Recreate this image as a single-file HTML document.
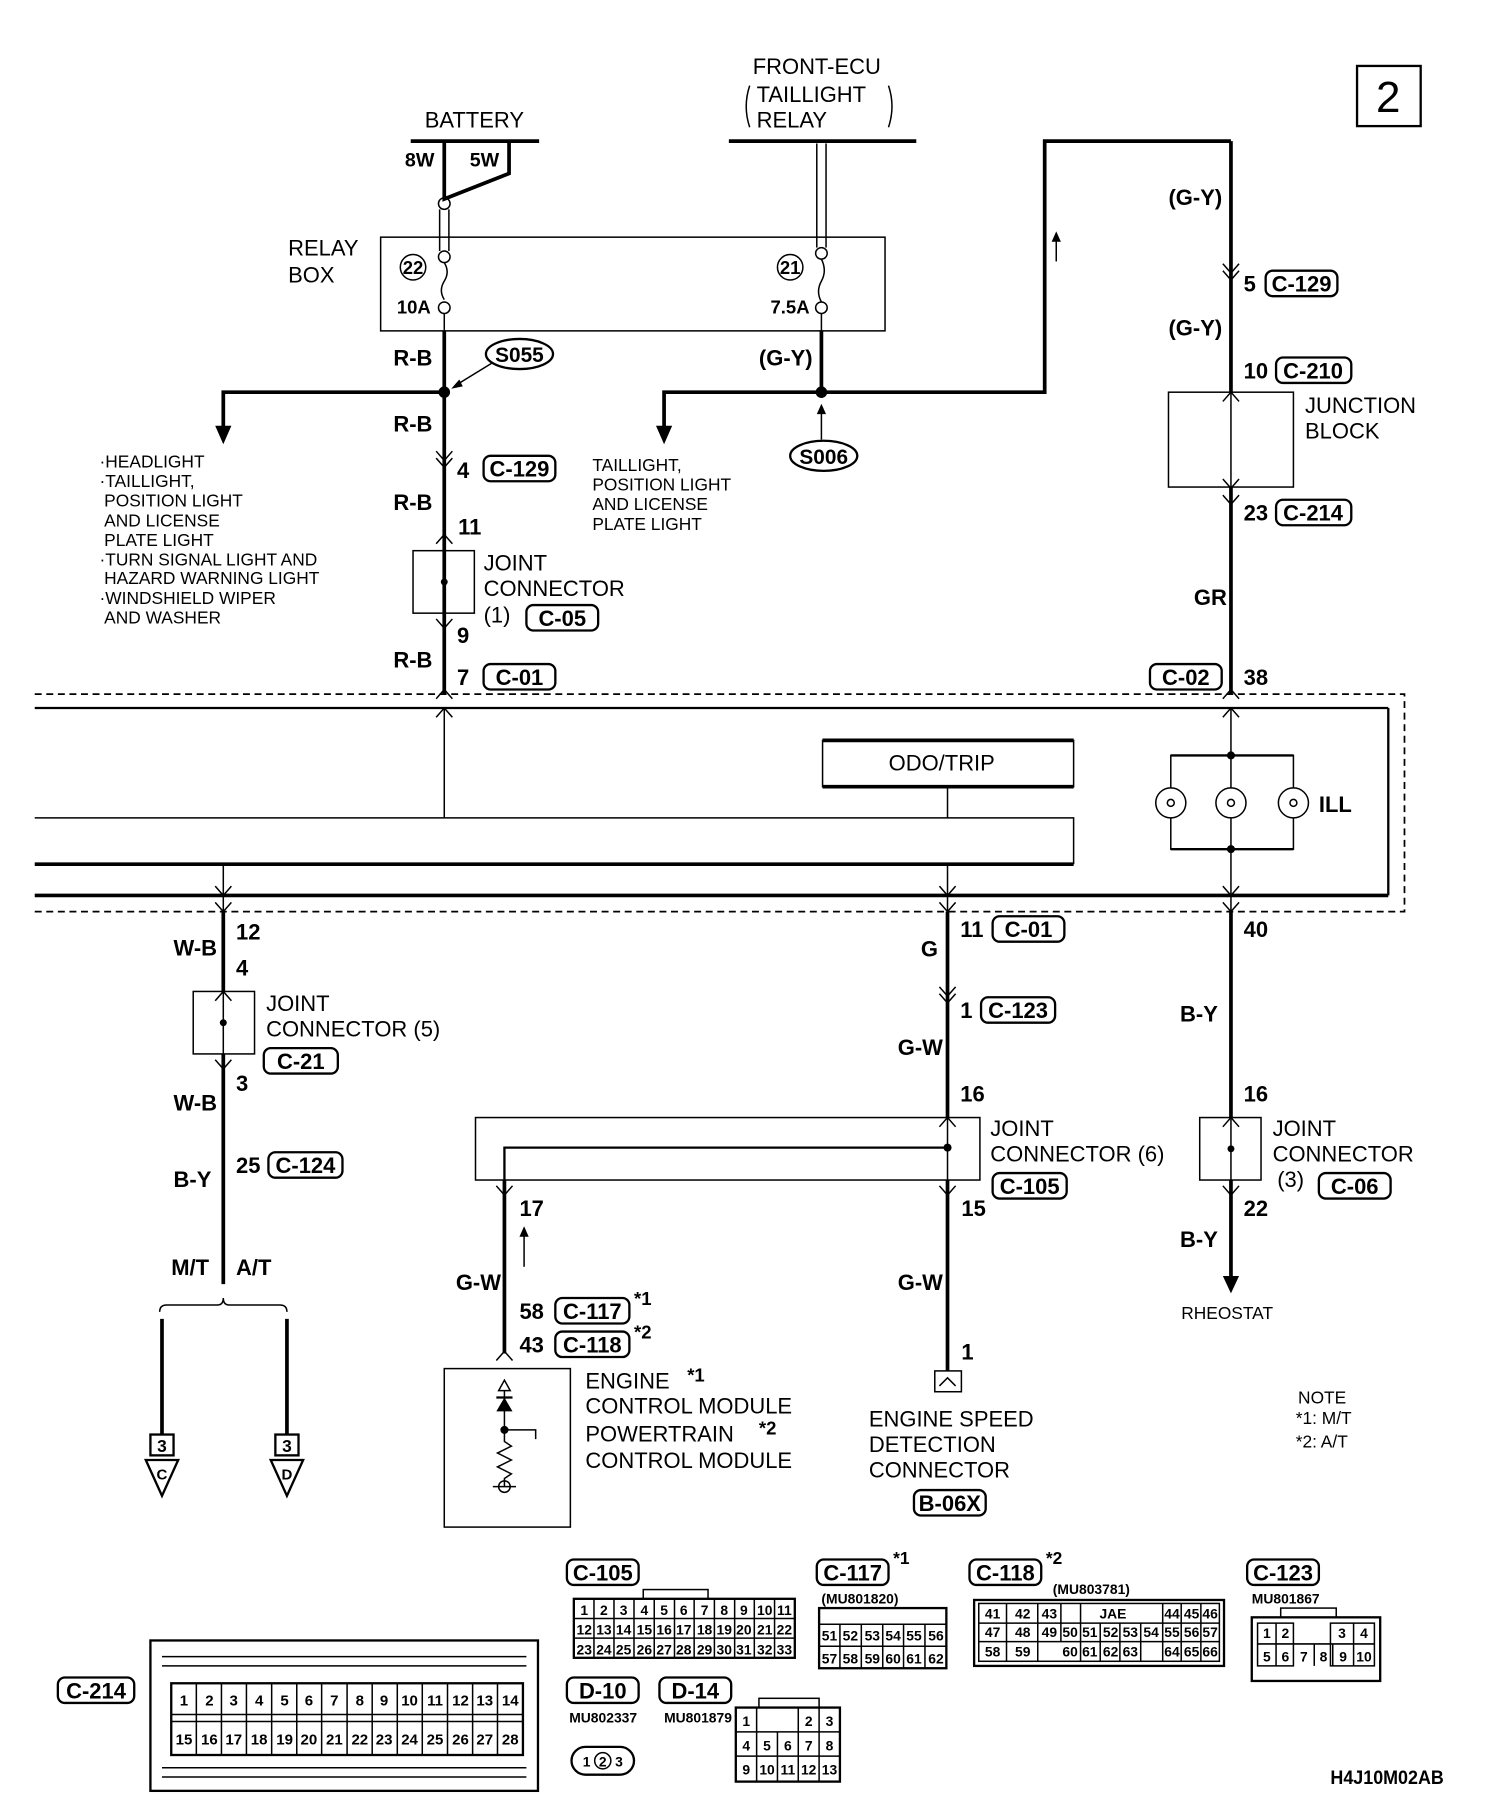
<!DOCTYPE html>
<html><head><meta charset="utf-8"><style>
html,body{margin:0;padding:0;background:#fff}
svg{display:block}
.n{font-family:"Liberation Sans",sans-serif;font-size:19px;fill:#000}
.s{font-family:"Liberation Sans",sans-serif;font-size:15px;fill:#000}
.b{font-family:"Liberation Sans",sans-serif;font-size:19px;font-weight:bold;fill:#000}
.g{font-family:"Liberation Sans",sans-serif;font-size:12px;font-weight:bold;fill:#000}
.t{stroke:#000;stroke-width:1.3;fill:none}
.k{stroke:#000;stroke-width:3.2;fill:none}
.m{stroke:#000;stroke-width:2;fill:none}
</style></head><body>
<svg width="1504" height="1814" viewBox="0 0 1300 1568" xmlns="http://www.w3.org/2000/svg">
<rect x="0" y="0" width="1300" height="1568" fill="#fff"/>
<!-- page number -->
<rect x="1173" y="57" width="55" height="52" class="m"/>
<text x="1200" y="97" class="n" style="font-size:38px" text-anchor="middle">2</text>

<!-- battery -->
<text x="410" y="110" class="n" text-anchor="middle">BATTERY</text>
<line x1="355" y1="122" x2="466" y2="122" class="k"/>
<text x="350" y="144" class="b" style="font-size:17px">8W</text>
<text x="406" y="144" class="b" style="font-size:17px">5W</text>
<polyline points="384,122 384,172 440,150 440,122" class="k"/>
<circle cx="384" cy="176" r="5" class="t" fill="#fff"/>
<line x1="380" y1="181" x2="380" y2="217" class="t"/><line x1="388" y1="181" x2="388" y2="217" class="t"/>
<circle cx="384" cy="222" r="5" class="t"/>
<path d="M384,227 q5,8 0,16 q-5,8 0,16" class="t"/>
<circle cx="384" cy="266" r="5" class="t"/>

<!-- front ecu -->
<text x="706" y="64" class="n" text-anchor="middle">FRONT-ECU</text>
<text x="654" y="88" class="n">TAILLIGHT</text>
<text x="654" y="110" class="n">RELAY</text>
<path d="M648,74 q-6,18 0,36" class="t"/><path d="M768,74 q6,18 0,36" class="t"/>
<line x1="630" y1="122" x2="792" y2="122" class="k"/>
<line x1="706" y1="124" x2="706" y2="214" class="t"/><line x1="714" y1="124" x2="714" y2="214" class="t"/>
<circle cx="710" cy="219" r="5" class="t"/>
<path d="M710,224 q5,10 0,19 q-5,9 0,18" class="t"/>
<circle cx="710" cy="266" r="5" class="t"/>

<!-- relay box -->
<rect x="329" y="205" width="436" height="81" class="t"/>
<text x="249" y="221" class="n">RELAY</text>
<text x="249" y="244" class="n">BOX</text>
<circle cx="357" cy="231" r="11" class="t"/><text x="357" y="237" class="b" style="font-size:16px" text-anchor="middle">22</text>
<circle cx="683" cy="231" r="11" class="t"/><text x="683" y="237" class="b" style="font-size:16px" text-anchor="middle">21</text>
<text x="343" y="271" class="b" style="font-size:16px">10A</text>
<text x="666" y="271" class="b" style="font-size:16px">7.5A</text>

<!-- R-B wire -->
<line x1="384" y1="271" x2="384" y2="286" class="t"/>
<line x1="384" y1="286" x2="384" y2="600" class="k"/>
<circle cx="384" cy="339" r="5"/>
<polyline points="384,339 193,339 193,372" class="k"/>
<polygon points="186,368 200,368 193,384"/>
<text x="340" y="316" class="b">R-B</text>
<text x="340" y="373" class="b">R-B</text>
<text x="340" y="441" class="b">R-B</text>
<text x="340" y="577" class="b">R-B</text>
<ellipse cx="449" cy="306" rx="29" ry="13" class="m"/><text x="449" y="313" class="b" style="font-size:18px" text-anchor="middle">S055</text>
<line x1="425" y1="314" x2="394" y2="333" class="t"/><polygon points="390,336 397,328 400,334"/>
<path d="M377,390 l7,8 l7,-8 M377,396 l7,8 l7,-8" class="t"/>
<text x="395" y="413" class="b">4</text>
<rect x="418" y="394" width="62" height="22" rx="6" class="m"/><text x="449" y="412" class="b" text-anchor="middle">C-129</text>
<text x="396" y="462" class="b">11</text>
<path d="M377,470 l7,-8 l7,8" class="t"/>
<rect x="357" y="476" width="53" height="54" class="t"/>
<circle cx="384" cy="503" r="3"/>
<line x1="384" y1="476" x2="384" y2="530" class="t"/>
<path d="M377,535 l7,8 l7,-8" class="t"/>
<text x="418" y="493" class="n">JOINT</text>
<text x="418" y="515" class="n">CONNECTOR</text>
<text x="418" y="538" class="n">(1)</text>
<rect x="455" y="523" width="62" height="22" rx="6" class="m"/><text x="486" y="541" class="b" text-anchor="middle">C-05</text>
<text x="395" y="556" class="b">9</text>
<text x="395" y="592" class="b">7</text>
<rect x="418" y="574" width="62" height="22" rx="6" class="m"/><text x="449" y="592" class="b" text-anchor="middle">C-01</text>
<path d="M377,604 l7,-8 l7,8" class="t"/>

<!-- left list -->
<g class="s">
<text x="86" y="404">·HEADLIGHT</text>
<text x="86" y="421">·TAILLIGHT,</text>
<text x="90" y="438">POSITION LIGHT</text>
<text x="90" y="455">AND LICENSE</text>
<text x="90" y="472">PLATE LIGHT</text>
<text x="86" y="489">·TURN SIGNAL LIGHT AND</text>
<text x="90" y="505">HAZARD WARNING LIGHT</text>
<text x="86" y="522">·WINDSHIELD WIPER</text>
<text x="90" y="539">AND WASHER</text>
</g>

<!-- G-Y wire -->
<line x1="710" y1="271" x2="710" y2="286" class="t"/>
<line x1="710" y1="286" x2="710" y2="339" class="k"/>
<circle cx="710" cy="339" r="5"/>
<polyline points="710,339 574,339 574,372" class="k"/>
<polygon points="567,368 581,368 574,384"/>
<polyline points="710,339 903,339 903,122 1064,122" class="k"/>
<text x="656" y="316" class="b">(G-Y)</text>
<line x1="710" y1="352" x2="710" y2="380" class="t"/><polygon points="706,358 714,358 710,349"/>
<ellipse cx="712" cy="394" rx="29" ry="13" class="m"/><text x="712" y="401" class="b" style="font-size:18px" text-anchor="middle">S006</text>
<line x1="913" y1="226" x2="913" y2="203" class="t"/><polygon points="909,209 917,209 913,200"/>
<g class="s">
<text x="512" y="407">TAILLIGHT,</text>
<text x="512" y="424">POSITION LIGHT</text>
<text x="512" y="441">AND LICENSE</text>
<text x="512" y="458">PLATE LIGHT</text>
</g>

<!-- right wire -->
<line x1="1064" y1="122" x2="1064" y2="600" class="k"/>
<text x="1010" y="177" class="b">(G-Y)</text>
<path d="M1057,228 l7,8 l7,-8 M1057,234 l7,8 l7,-8" class="t"/>
<text x="1075" y="252" class="b">5</text>
<rect x="1094" y="234" width="62" height="22" rx="6" class="m"/><text x="1125" y="252" class="b" text-anchor="middle">C-129</text>
<text x="1010" y="290" class="b">(G-Y)</text>
<text x="1075" y="327" class="b">10</text>
<rect x="1103" y="309" width="65" height="22" rx="6" class="m"/><text x="1135" y="327" class="b" text-anchor="middle">C-210</text>
<rect x="1010" y="339" width="108" height="82" fill="#fff" stroke="#000" stroke-width="1.3"/>
<line x1="1064" y1="339" x2="1064" y2="421" class="t"/>
<path d="M1057,347 l7,-8 l7,8 M1057,414 l7,8 l7,-8" class="t"/>
<text x="1128" y="357" class="n">JUNCTION</text>
<text x="1128" y="379" class="n">BLOCK</text>
<path d="M1057,428 l7,8 l7,-8" class="t"/>
<text x="1075" y="450" class="b">23</text>
<rect x="1103" y="432" width="65" height="22" rx="6" class="m"/><text x="1135" y="450" class="b" text-anchor="middle">C-214</text>
<text x="1032" y="523" class="b">GR</text>
<rect x="994" y="574" width="62" height="22" rx="6" class="m"/><text x="1025" y="592" class="b" text-anchor="middle">C-02</text>
<text x="1075" y="592" class="b">38</text>
<path d="M1057,604 l7,-8 l7,8" class="t"/>

<!-- meter frame -->
<path d="M30,600 H1214 V788 H30" fill="none" stroke="#000" stroke-width="1.5" stroke-dasharray="6,4"/>
<line x1="30" y1="612" x2="1200" y2="612" class="m"/>
<line x1="1200" y1="612" x2="1200" y2="774" class="m"/>
<line x1="30" y1="774" x2="1200" y2="774" class="k"/>
<path d="M377,620 l7,-8 l7,8" class="t"/>
<line x1="384" y1="612" x2="384" y2="707" class="t"/>
<rect x="711" y="640" width="217" height="40" fill="#fff" stroke="#000" stroke-width="1.3"/>
<line x1="711" y1="640" x2="928" y2="640" class="k"/><line x1="711" y1="680" x2="928" y2="680" class="k"/>
<text x="814" y="666" class="n" text-anchor="middle">ODO/TRIP</text>
<line x1="819" y1="680" x2="819" y2="707" class="t"/>
<polyline points="30,707 928,707 928,747" class="t"/>
<line x1="30" y1="747" x2="928" y2="747" class="k"/>
<line x1="193" y1="747" x2="193" y2="790" class="t"/>
<line x1="819" y1="747" x2="819" y2="790" class="t"/>
<path d="M186,766 l7,8 l7,-8 M186,780 l7,8 l7,-8 M812,766 l7,8 l7,-8 M812,780 l7,8 l7,-8" class="t"/>
<!-- ILL -->
<line x1="1064" y1="612" x2="1064" y2="790" class="t"/>
<path d="M1057,620 l7,-8 l7,8 M1057,766 l7,8 l7,-8 M1057,780 l7,8 l7,-8" class="t"/>
<rect x="1012" y="653" width="106" height="81" class="t"/>
<line x1="1012" y1="653" x2="1118" y2="653" class="m"/><line x1="1012" y1="734" x2="1118" y2="734" class="m"/>
<circle cx="1064" cy="653" r="3.5"/><circle cx="1064" cy="734" r="3.5"/>
<circle cx="1012" cy="694" r="13" fill="#fff" stroke="#000" stroke-width="1.3"/>
<circle cx="1064" cy="694" r="13" fill="#fff" stroke="#000" stroke-width="1.3"/>
<circle cx="1118" cy="694" r="13" fill="#fff" stroke="#000" stroke-width="1.3"/>
<circle cx="1012" cy="694" r="3" class="t"/><circle cx="1064" cy="694" r="3" class="t"/><circle cx="1118" cy="694" r="3" class="t"/>
<text x="1140" y="702" class="b">ILL</text>

<!-- left lower wire -->
<line x1="193" y1="788" x2="193" y2="1110" class="k"/>
<text x="204" y="812" class="b">12</text>
<text x="150" y="826" class="b">W-B</text>
<text x="204" y="843" class="b">4</text>
<rect x="167" y="857" width="53" height="54" fill="#fff" stroke="#000" stroke-width="1.3"/>
<line x1="193" y1="857" x2="193" y2="911" class="t"/><circle cx="193" cy="884" r="3"/>
<path d="M186,865 l7,-8 l7,8 M186,916 l7,8 l7,-8" class="t"/>
<text x="230" y="874" class="n">JOINT</text>
<text x="230" y="896" class="n">CONNECTOR (5)</text>
<rect x="228" y="906" width="64" height="22" rx="6" class="m"/><text x="260" y="924" class="b" text-anchor="middle">C-21</text>
<text x="204" y="943" class="b">3</text>
<text x="150" y="960" class="b">W-B</text>
<text x="204" y="1014" class="b">25</text>
<rect x="232" y="996" width="64" height="22" rx="6" class="m"/><text x="264" y="1014" class="b" text-anchor="middle">C-124</text>
<text x="150" y="1026" class="b">B-Y</text>
<text x="148" y="1102" class="b">M/T</text>
<text x="204" y="1102" class="b">A/T</text>
<path d="M138,1134 q0,-6 6,-6 H188 q5,0 5,-6 q0,6 5,6 H242 q6,0 6,6" class="t"/>
<line x1="140" y1="1140" x2="140" y2="1240" class="k"/>
<line x1="248" y1="1140" x2="248" y2="1240" class="k"/>
<rect x="130" y="1240" width="20" height="18" class="m"/><text x="140" y="1255" class="b" style="font-size:15px" text-anchor="middle">3</text>
<rect x="238" y="1240" width="20" height="18" class="m"/><text x="248" y="1255" class="b" style="font-size:15px" text-anchor="middle">3</text>
<polygon points="126,1262 154,1262 140,1293" class="m"/><text x="140" y="1279" class="b" style="font-size:13px" text-anchor="middle">C</text>
<polygon points="234,1262 262,1262 248,1293" class="m"/><text x="248" y="1279" class="b" style="font-size:13px" text-anchor="middle">D</text>

<!-- middle lower wire -->
<line x1="819" y1="788" x2="819" y2="1185" class="k"/>
<text x="830" y="810" class="b">11</text>
<rect x="858" y="792" width="62" height="22" rx="6" class="m"/><text x="889" y="810" class="b" text-anchor="middle">C-01</text>
<text x="796" y="827" class="b">G</text>
<path d="M812,853 l7,8 l7,-8 M812,859 l7,8 l7,-8" class="t"/>
<text x="830" y="880" class="b">1</text>
<rect x="848" y="862" width="64" height="22" rx="6" class="m"/><text x="880" y="880" class="b" text-anchor="middle">C-123</text>
<text x="776" y="912" class="b">G-W</text>
<text x="830" y="952" class="b">16</text>
<rect x="411" y="966" width="436" height="54" fill="#fff" stroke="#000" stroke-width="1.3"/>
<path d="M812,974 l7,-8 l7,8" class="t"/>
<line x1="819" y1="966" x2="819" y2="1020" class="t"/>
<polyline points="819,992 436,992 436,1020" class="m"/>
<circle cx="819" cy="992" r="3.5"/>
<path d="M812,1025 l7,8 l7,-8 M429,1025 l7,8 l7,-8" class="t"/>
<text x="856" y="982" class="n">JOINT</text>
<text x="856" y="1004" class="n">CONNECTOR (6)</text>
<rect x="858" y="1014" width="64" height="22" rx="6" class="m"/><text x="890" y="1032" class="b" text-anchor="middle">C-105</text>
<text x="831" y="1051" class="b">15</text>
<text x="449" y="1051" class="b">17</text>
<line x1="436" y1="1020" x2="436" y2="1170" class="k"/>
<text x="776" y="1115" class="b">G-W</text>
<text x="394" y="1115" class="b">G-W</text>
<line x1="453" y1="1095" x2="453" y2="1065" class="t"/><polygon points="449,1069 457,1069 453,1060"/>
<text x="449" y="1140" class="b">58</text>
<rect x="480" y="1122" width="64" height="22" rx="6" class="m"/><text x="512" y="1140" class="b" text-anchor="middle">C-117</text>
<text x="548" y="1128" class="b" style="font-size:16px">*1</text>
<text x="449" y="1169" class="b">43</text>
<rect x="480" y="1151" width="64" height="22" rx="6" class="m"/><text x="512" y="1169" class="b" text-anchor="middle">C-118</text>
<text x="548" y="1157" class="b" style="font-size:16px">*2</text>
<path d="M429,1176 l7,-8 l7,8" class="t"/>
<rect x="384" y="1183" width="109" height="137" class="t"/>
<polygon points="431,1202 441,1202 436,1193" class="t"/>
<line x1="436" y1="1202" x2="436" y2="1236" class="t"/>
<polygon points="429,1220 443,1220 436,1208"/><line x1="429" y1="1208" x2="443" y2="1208" class="m"/>
<circle cx="436" cy="1236" r="3.5"/>
<polyline points="436,1236 463,1236 463,1244" class="t"/>
<polyline points="436,1236 436,1246 442,1250 430,1256 442,1262 430,1268 442,1274 436,1278 436,1285" class="t"/>
<circle cx="436" cy="1285" r="5" class="t"/><line x1="426" y1="1285" x2="446" y2="1285" class="t"/>
<text x="506" y="1200" class="n">ENGINE</text><text x="594" y="1194" class="b" style="font-size:16px">*1</text>
<text x="506" y="1222" class="n">CONTROL MODULE</text>
<text x="506" y="1246" class="n">POWERTRAIN</text><text x="656" y="1240" class="b" style="font-size:16px">*2</text>
<text x="506" y="1269" class="n">CONTROL MODULE</text>
<text x="831" y="1175" class="b">1</text>
<rect x="808" y="1185" width="23" height="18" class="t"/>
<polyline points="812,1198 819,1191 826,1198" class="t"/>
<text x="751" y="1233" class="n">ENGINE SPEED</text>
<text x="751" y="1255" class="n">DETECTION</text>
<text x="751" y="1277" class="n">CONNECTOR</text>
<rect x="790" y="1288" width="62" height="22" rx="6" class="m"/><text x="821" y="1306" class="b" text-anchor="middle">B-06X</text>

<!-- right lower wire -->
<line x1="1064" y1="788" x2="1064" y2="1105" class="k"/>
<polygon points="1057,1103 1071,1103 1064,1118"/>
<text x="1075" y="810" class="b">40</text>
<text x="1020" y="883" class="b">B-Y</text>
<text x="1075" y="952" class="b">16</text>
<rect x="1037" y="966" width="53" height="54" fill="#fff" stroke="#000" stroke-width="1.3"/>
<line x1="1064" y1="966" x2="1064" y2="1020" class="t"/><circle cx="1064" cy="993" r="3"/>
<path d="M1057,974 l7,-8 l7,8 M1057,1025 l7,8 l7,-8" class="t"/>
<text x="1100" y="982" class="n">JOINT</text>
<text x="1100" y="1004" class="n">CONNECTOR</text>
<text x="1104" y="1026" class="n">(3)</text>
<rect x="1140" y="1014" width="62" height="22" rx="6" class="m"/><text x="1171" y="1032" class="b" text-anchor="middle">C-06</text>
<text x="1075" y="1051" class="b">22</text>
<text x="1020" y="1078" class="b">B-Y</text>
<text x="1021" y="1140" class="s">RHEOSTAT</text>
<text x="1122" y="1213" class="s">NOTE</text>
<text x="1120" y="1231" class="s">*1: M/T</text>
<text x="1120" y="1251" class="s">*2: A/T</text>

<!-- bottom connectors -->
<rect x="490" y="1348" width="62" height="22" rx="6" class="m"/><text x="521" y="1366" class="b" text-anchor="middle">C-105</text>
<rect x="706" y="1348" width="62" height="22" rx="6" class="m"/><text x="737" y="1366" class="b" text-anchor="middle">C-117</text><text x="772" y="1352" class="b" style="font-size:15px">*1</text>
<rect x="838" y="1348" width="62" height="22" rx="6" class="m"/><text x="869" y="1366" class="b" text-anchor="middle">C-118</text><text x="904" y="1352" class="b" style="font-size:15px">*2</text>
<rect x="1078" y="1348" width="62" height="22" rx="6" class="m"/><text x="1109" y="1366" class="b" text-anchor="middle">C-123</text>
<rect x="50" y="1450" width="66" height="22" rx="6" class="m"/><text x="83" y="1468" class="b" text-anchor="middle">C-214</text>
<rect x="490" y="1450" width="62" height="22" rx="6" class="m"/><text x="521" y="1468" class="b" text-anchor="middle">D-10</text>
<rect x="570" y="1450" width="62" height="22" rx="6" class="m"/><text x="601" y="1468" class="b" text-anchor="middle">D-14</text>

<!-- C-105 grid -->
<rect x="556" y="1374" width="56" height="8" class="t"/>
<rect x="496" y="1382" width="191" height="51" class="m"/>
<path d="M496,1399H687M496,1416H687 M513.4,1382V1433M530.7,1382V1433M548,1382V1433M565.5,1382V1433M583,1382V1433M600,1382V1433M617.5,1382V1433M635,1382V1433M652,1382V1433M669.5,1382V1433" class="t"/>
<g class="g" text-anchor="middle">
<text x="505" y="1396">1</text><text x="522" y="1396">2</text><text x="539" y="1396">3</text><text x="557" y="1396">4</text><text x="574" y="1396">5</text><text x="591" y="1396">6</text><text x="609" y="1396">7</text><text x="626" y="1396">8</text><text x="643" y="1396">9</text><text x="661" y="1396">10</text><text x="678" y="1396">11</text>
<text x="505" y="1413">12</text><text x="522" y="1413">13</text><text x="539" y="1413">14</text><text x="557" y="1413">15</text><text x="574" y="1413">16</text><text x="591" y="1413">17</text><text x="609" y="1413">18</text><text x="626" y="1413">19</text><text x="643" y="1413">20</text><text x="661" y="1413">21</text><text x="678" y="1413">22</text>
<text x="505" y="1430">23</text><text x="522" y="1430">24</text><text x="539" y="1430">25</text><text x="557" y="1430">26</text><text x="574" y="1430">27</text><text x="591" y="1430">28</text><text x="609" y="1430">29</text><text x="626" y="1430">30</text><text x="643" y="1430">31</text><text x="661" y="1430">32</text><text x="678" y="1430">33</text>
</g>
<!-- C-117 -->
<text x="710" y="1386" class="g">(MU801820)</text>
<rect x="708" y="1390" width="110" height="52" class="m"/>
<path d="M708,1404H818M708,1423H818M726,1404V1442M744.5,1404V1442M763,1404V1442M781,1404V1442M799.5,1404V1442" class="t"/>
<g class="g" text-anchor="middle">
<text x="717" y="1418">51</text><text x="735" y="1418">52</text><text x="754" y="1418">53</text><text x="772" y="1418">54</text><text x="790" y="1418">55</text><text x="809" y="1418">56</text>
<text x="717" y="1438">57</text><text x="735" y="1438">58</text><text x="754" y="1438">59</text><text x="772" y="1438">60</text><text x="790" y="1438">61</text><text x="809" y="1438">62</text>
</g>
<!-- C-118 -->
<text x="910" y="1378" class="g">(MU803781)</text>
<rect x="842" y="1383" width="216" height="57" class="m"/>
<rect x="846" y="1386" width="208" height="50" class="t"/>
<path d="M846,1403H1054M846,1419H1054M870,1386V1436M897,1386V1436M917,1386V1419M934,1386V1436M1005,1386V1436M1021,1386V1436M1038,1386V1436M951,1403V1436M968,1403V1436M986,1403V1436" class="t"/>
<g class="g" text-anchor="middle">
<text x="858" y="1399">41</text><text x="884" y="1399">42</text><text x="907" y="1399">43</text><text x="962" y="1399">JAE</text><text x="1013" y="1399">44</text><text x="1030" y="1399">45</text><text x="1046" y="1399">46</text>
<text x="858" y="1415">47</text><text x="884" y="1415">48</text><text x="907" y="1415">49</text><text x="925" y="1415">50</text><text x="942" y="1415">51</text><text x="960" y="1415">52</text><text x="977" y="1415">53</text><text x="995" y="1415">54</text><text x="1013" y="1415">55</text><text x="1030" y="1415">56</text><text x="1046" y="1415">57</text>
<text x="858" y="1432">58</text><text x="884" y="1432">59</text><text x="925" y="1432">60</text><text x="942" y="1432">61</text><text x="960" y="1432">62</text><text x="977" y="1432">63</text><text x="1013" y="1432">64</text><text x="1030" y="1432">65</text><text x="1046" y="1432">66</text>
</g>
<!-- C-123 -->
<text x="1082" y="1386" class="g">MU801867</text>
<rect x="1107" y="1390" width="48" height="8" class="t"/>
<rect x="1082" y="1398" width="111" height="55" class="m"/>
<path d="M1087,1403H1118V1440H1087ZM1103,1403V1440M1087,1421H1188M1150,1403H1188V1440H1150ZM1170,1403V1440M1118,1421V1440M1136,1421V1440M1152,1421V1440" class="t"/>
<g class="g" text-anchor="middle">
<text x="1095" y="1416">1</text><text x="1111" y="1416">2</text><text x="1160" y="1416">3</text><text x="1179" y="1416">4</text>
<text x="1095" y="1436">5</text><text x="1111" y="1436">6</text><text x="1127" y="1436">7</text><text x="1144" y="1436">8</text><text x="1161" y="1436">9</text><text x="1179" y="1436">10</text>
</g>
<!-- C-214 -->
<rect x="130" y="1418" width="335" height="130" class="m"/>
<path d="M140,1432H455M140,1440H455M140,1528H455M140,1536H455" class="t"/>
<rect x="148" y="1455" width="304" height="62" class="m"/>
<path d="M148,1482H452M148,1488H452 M169.7,1455V1517M191.4,1455V1517M213,1455V1517M234.8,1455V1517M256.5,1455V1517M278,1455V1517M300,1455V1517M321.7,1455V1517M343.4,1455V1517M365,1455V1517M386.8,1455V1517M408.5,1455V1517M430,1455V1517" class="t"/>
<g class="g" text-anchor="middle" style="font-size:13px">
<text x="159" y="1474">1</text><text x="181" y="1474">2</text><text x="202" y="1474">3</text><text x="224" y="1474">4</text><text x="246" y="1474">5</text><text x="267" y="1474">6</text><text x="289" y="1474">7</text><text x="311" y="1474">8</text><text x="332" y="1474">9</text><text x="354" y="1474">10</text><text x="376" y="1474">11</text><text x="398" y="1474">12</text><text x="419" y="1474">13</text><text x="441" y="1474">14</text>
<text x="159" y="1508">15</text><text x="181" y="1508">16</text><text x="202" y="1508">17</text><text x="224" y="1508">18</text><text x="246" y="1508">19</text><text x="267" y="1508">20</text><text x="289" y="1508">21</text><text x="311" y="1508">22</text><text x="332" y="1508">23</text><text x="354" y="1508">24</text><text x="376" y="1508">25</text><text x="398" y="1508">26</text><text x="419" y="1508">27</text><text x="441" y="1508">28</text>
</g>
<!-- D-10 -->
<text x="492" y="1489" class="g">MU802337</text>
<rect x="494" y="1510" width="54" height="24" rx="12" class="m"/>
<g class="g" text-anchor="middle"><text x="507" y="1527">1</text><text x="521" y="1527">2</text><text x="535" y="1527">3</text></g>
<circle cx="521" cy="1522" r="7" class="t"/>
<!-- D-14 -->
<text x="574" y="1489" class="g">MU801879</text>
<rect x="656" y="1468" width="52" height="8" class="t"/>
<rect x="636" y="1476" width="90" height="64" class="m"/>
<path d="M636,1497H726M636,1518H726M654,1476V1497M690,1476V1540M708,1476V1540M654,1497V1540M672,1497V1540" class="t"/>
<g class="g" text-anchor="middle">
<text x="645" y="1492">1</text><text x="699" y="1492">2</text><text x="717" y="1492">3</text>
<text x="645" y="1513">4</text><text x="663" y="1513">5</text><text x="681" y="1513">6</text><text x="699" y="1513">7</text><text x="717" y="1513">8</text>
<text x="645" y="1534">9</text><text x="663" y="1534">10</text><text x="681" y="1534">11</text><text x="699" y="1534">12</text><text x="717" y="1534">13</text>
</g>
<text x="1150" y="1542" class="b" style="font-size:17px" textLength="98" lengthAdjust="spacingAndGlyphs">H4J10M02AB</text>
</svg>
</body></html>
